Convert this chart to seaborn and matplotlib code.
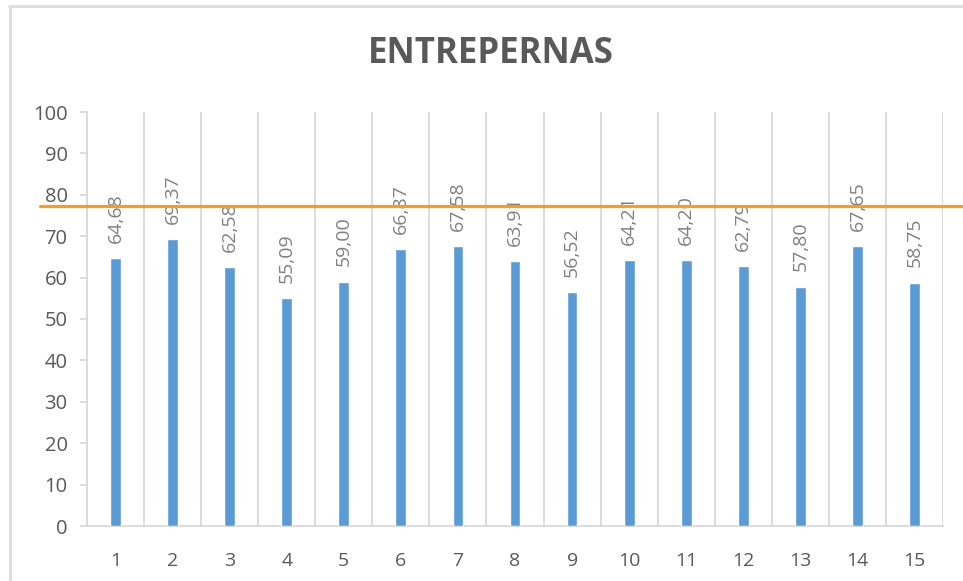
import matplotlib
matplotlib.use("Agg")
import matplotlib.pyplot as plt
from matplotlib.lines import Line2D
import seaborn as sns
import pandas as pd

# Scores per group
categories = [str(i) for i in range(1, 16)]
values = [64.68, 69.37, 62.58, 55.09, 59.00, 66.87, 67.58, 63.91,
          56.52, 64.21, 64.20, 62.79, 57.80, 67.65, 58.75]
reference_level = 77.4
y_ticks = [0, 10, 20, 30, 40, 50, 60, 70, 80, 90, 100]
title = "ENTREPERNAS"

sns.set_theme(style="white")
plt.rcParams["font.family"] = ["Open Sans", "DejaVu Sans"]

BAR = "#5B9BD5"
GRID = "#D9D9D9"
TICK_TXT = "#595959"
LABEL_TXT = "#808080"
ORANGE = "#F59E26"

fig = plt.figure(figsize=(9.63, 5.81), dpi=100)
ax = fig.add_axes([87 / 963, 1 - 526 / 581, 856 / 963, 414 / 581])

df = pd.DataFrame({"grupo": categories, "valor": values})
sns.barplot(data=df, x="grupo", y="valor", color=BAR, width=0.19,
            saturation=1, ax=ax, zorder=3)

ax.set_xlim(-0.5, len(categories) - 0.5)
ax.set_ylim(0, 100)
ax.set_yticks(y_ticks)
ax.set_xlabel("")
ax.set_ylabel("")

# vertical separators between groups
ax.set_xticks([i - 0.5 for i in range(len(categories) + 1)], minor=True)
ax.grid(True, which="minor", axis="x", color=GRID, linewidth=1.3, zorder=0)
ax.grid(False, which="major")

for side in ("top", "right"):
    ax.spines[side].set_visible(False)
for side in ("left", "bottom"):
    ax.spines[side].set_color(GRID)
    ax.spines[side].set_linewidth(1.3)

ax.tick_params(axis="y", which="major", left=True, length=5, width=1.3,
               color=GRID, pad=9, labelsize=14.5, labelcolor=TICK_TXT)
ax.tick_params(axis="x", which="major", bottom=False, pad=13,
               labelsize=14, labelcolor=TICK_TXT)
ax.tick_params(axis="x", which="minor", bottom=False)

# value labels, rotated, with decimal comma
for i, v in enumerate(values):
    ax.annotate(f"{v:.2f}".replace(".", ","), xy=(i, v),
                xytext=(0, 11), textcoords="offset points",
                rotation=90, ha="center", va="bottom",
                fontsize=14, color=LABEL_TXT, zorder=4)

# reference line running past the plot area
ax.axhline(reference_level, xmin=-0.055, xmax=1.03, color=ORANGE,
           linewidth=2.3, clip_on=False, zorder=5)

fig.text(491 / 963, 1 - 63 / 581, title, ha="center", va="baseline",
         fontsize=25, fontweight="bold", color=TICK_TXT)

# chart frame
fig.add_artist(Line2D([9 / 963, 1], [1 - 6 / 581, 1 - 6 / 581],
                      transform=fig.transFigure, color="#DCDCDC", linewidth=2))
fig.add_artist(Line2D([10 / 963, 10 / 963], [0, 1 - 6 / 581],
                      transform=fig.transFigure, color="#DCDCDC", linewidth=2))

fig.savefig("out.png", dpi=100, facecolor="white")
